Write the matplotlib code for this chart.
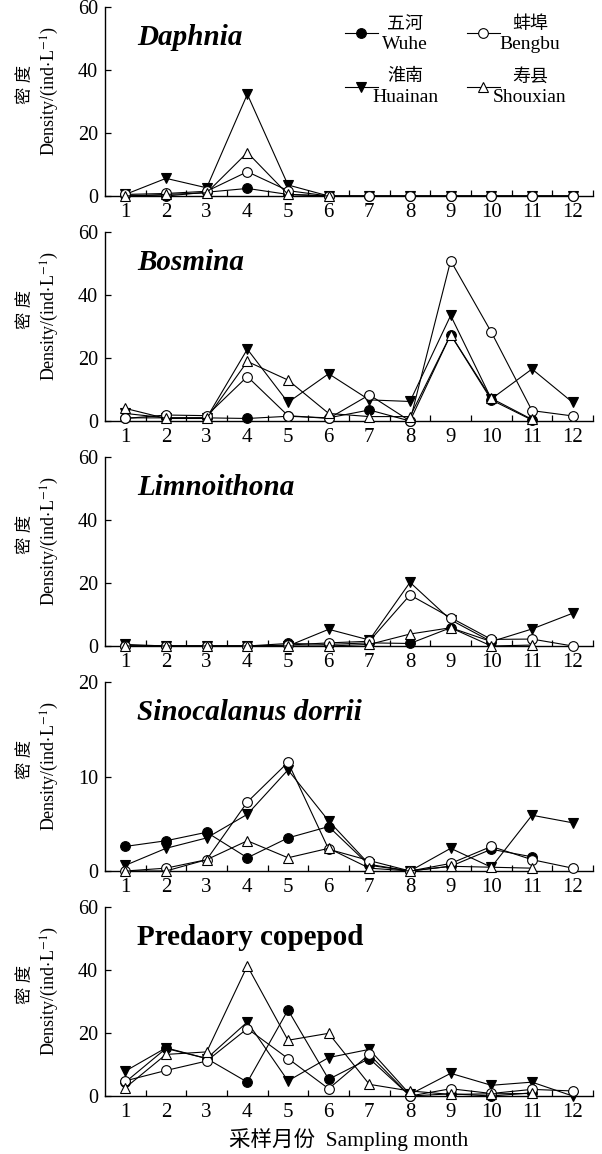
import numpy as np
import matplotlib
matplotlib.use("Agg")
import matplotlib.pyplot as plt

plt.rcParams["font.family"] = ["Liberation Serif", "Noto Sans CJK SC"]
plt.rcParams["mathtext.fontset"] = "stix"

# ── data ──────────────────────────────────────────────────────────────────────
months = np.arange(1, 13)
nan = np.nan

taxa = ["Daphnia", "Bosmina", "Limnoithona", "Sinocalanus dorrii", "Predaory copepod"]
title_italic = [True, True, True, True, False]
ymax = [60, 60, 60, 20, 60]

wuhe = [
    [0.3, 0, 1.2, 2.4, 0.5, 0, 0, 0, 0, 0, 0, 0],
    [1, 1, 1, 0.8, 1.5, 1, 3.5, 0, 27.4, 6.7, 0.3, nan],
    [0, 0, 0, 0, 0.8, 0.5, 1, 0.8, 5.8, 1.4, nan, nan],
    [2.6, 3.2, 4.1, 1.4, 3.5, 4.7, 0.6, 0, 0.5, 2.3, 1.5, nan],
    [4.4, 15.1, 11.9, 4.4, 27.3, 5.3, 11.9, 0, 0.7, 0, 1, nan],
]
bengbu = [
    [0.5, 0.8, 1.5, 7.7, 1.7, 0, 0, 0, 0, 0, 0, 0],
    [0.8, 1.9, 1.7, 14.1, 1.7, 0.8, 8.3, 0, 50.9, 28.2, 3.3, 1.6],
    [0, 0, 0, 0, 0.3, 1, 1.5, 16.2, 9, 2.1, 2.2, 0],
    [0, 0.3, 1.2, 7.3, 11.5, 2.3, 1.1, 0, 0.8, 2.6, 1.2, 0.3],
    [4.8, 8.1, 11.1, 21.4, 11.9, 2.3, 13.2, 0, 2.3, 0.8, 2.1, 1.6],
]
huainan = [
    [0.5, 5.6, 2.6, 32.3, 3.5, 0, 0, 0, 0, 0, 0, 0],
    [2.4, 1, 1, 22.8, 5.9, 15, 6.7, 6.2, 33.5, 7, 16.5, 5.9],
    [0.5, 0, 0, 0, 0, 5.3, 1.9, 20.2, 8.3, 1.4, 5.4, 10.4],
    [0.6, 2.4, 3.5, 6, 10.7, 5.3, 0.7, 0, 2.4, 0.4, 5.9, 5.1],
    [7.9, 15.3, 11.9, 23.5, 4.8, 12.2, 14.8, 0.5, 7.2, 3.4, 4.4, 0],
]
shouxian = [
    [0, 0.5, 1, 13.8, 0.5, 0, nan, nan, nan, nan, nan, nan],
    [4, 0.8, 0.8, 18.9, 13, 2.4, 1.4, 1.4, 27.4, 7.2, 0.5, nan],
    [0, 0, 0, 0, 0, 0, 0.5, 3.8, 5.8, 0, 0.3, nan],
    [0, 0, 1.2, 3.2, 1.4, 2.4, 0.3, 0, 0.5, 0.4, 0.3, nan],
    [2.6, 13.2, 14, 41.3, 17.7, 19.9, 3.7, 1.6, 0.5, 0.7, 0.8, nan],
]

stations_cn = ["五河", "蚌埠", "淮南", "寿县"]
stations_en = ["Wuhe", "Bengbu", "Huainan", "Shouxian"]

# marker styles: (marker, facecolor)
STY = {
    "Wuhe": ("o", "black"),
    "Huainan": ("v", "black"),
    "Bengbu": ("o", "white"),
    "Shouxian": ("^", "white"),
}

# ── figure ────────────────────────────────────────────────────────────────────
W, H = 602, 1154
fig = plt.figure(figsize=(W / 100, H / 100), dpi=100)

AX_L, AX_R = 105, 593
AX_H = 189
tops = [7, 232, 457, 682, 907]

series_sets = {"Wuhe": wuhe, "Huainan": huainan, "Bengbu": bengbu, "Shouxian": shouxian}

for i, top in enumerate(tops):
    bot = top + AX_H
    ax = fig.add_axes([AX_L / W, 1 - bot / H, (AX_R - AX_L) / W, AX_H / H])
    for name in ["Wuhe", "Huainan", "Bengbu", "Shouxian"]:
        mk, fc = STY[name]
        ax.plot(months, series_sets[name][i], color="black", lw=0.8,
                marker=mk, ms=7, mfc=fc, mec="black", mew=0.8,
                clip_on=False, zorder=3)

    ax.set_xlim(0.5, 12.5)
    ax.set_ylim(0, ymax[i])
    step = 10 if ymax[i] == 20 else 20
    ax.set_yticks(np.arange(0, ymax[i] + 1, step))
    ax.set_xticks(months)
    ax.set_xticks(np.arange(1.5, 13, 1), minor=True)
    ax.tick_params(axis="x", which="major", length=0, labelsize=15, pad=5)
    ax.tick_params(axis="x", which="minor", direction="in", length=4.5, width=0.9)
    ax.tick_params(axis="y", direction="in", length=4, width=0.9,
                   labelsize=14.5, pad=5)
    for s in ("top", "right"):
        ax.spines[s].set_visible(False)
    for s in ("left", "bottom"):
        ax.spines[s].set_linewidth(1.0)

    ax.text(0.066, 0.80, taxa[i], transform=ax.transAxes, fontsize=21,
            fontweight="bold", fontstyle="italic" if title_italic[i] else "normal",
            ha="left", va="baseline")

    # y label (two lines)
    yc = 1 - (top + 84) / H
    fig.text(26 / W, yc + 0.006, "密 度", rotation=90, fontsize=12.5,
             ha="center", va="center")
    fig.text(50 / W, yc, r"Density/(ind$\cdot$L$^{-1}$)", rotation=90,
             fontsize=13, ha="center", va="center")

    if i == 0:
        leg = [
            ("Wuhe", 0.492, 0.559, 0.615, 0.862, 0.905, 0.799),
            ("Bengbu", 0.742, 0.809, 0.871, 0.862, 0.905, 0.799),
            ("Huainan", 0.492, 0.559, 0.615, 0.577, 0.630, 0.519),
            ("Shouxian", 0.742, 0.809, 0.871, 0.577, 0.630, 0.519),
        ]
        for name, x0, x1, xt, yl, ycn, yen in leg:
            mk, fc = STY[name]
            ax.plot([x0, x1], [yl, yl], transform=ax.transAxes, color="black",
                    lw=0.8, clip_on=False)
            ax.plot([(x0 + x1) / 2], [yl], transform=ax.transAxes, marker=mk,
                    ms=7, mfc=fc, mec="black", mew=0.8, clip_on=False)
            k = stations_en.index(name)
            ax.text(xt, ycn, stations_cn[k], transform=ax.transAxes,
                    fontsize=13, ha="center", va="center")
            ax.text(xt, yen, stations_en[k], transform=ax.transAxes,
                    fontsize=14, ha="center", va="center")

fig.text((AX_L + AX_R) / 2 / W, 1 - 1140 / H, "采样月份  Sampling month",
         fontsize=15.5, ha="center", va="center")

fig.savefig("out.png", dpi=100, facecolor="white")
